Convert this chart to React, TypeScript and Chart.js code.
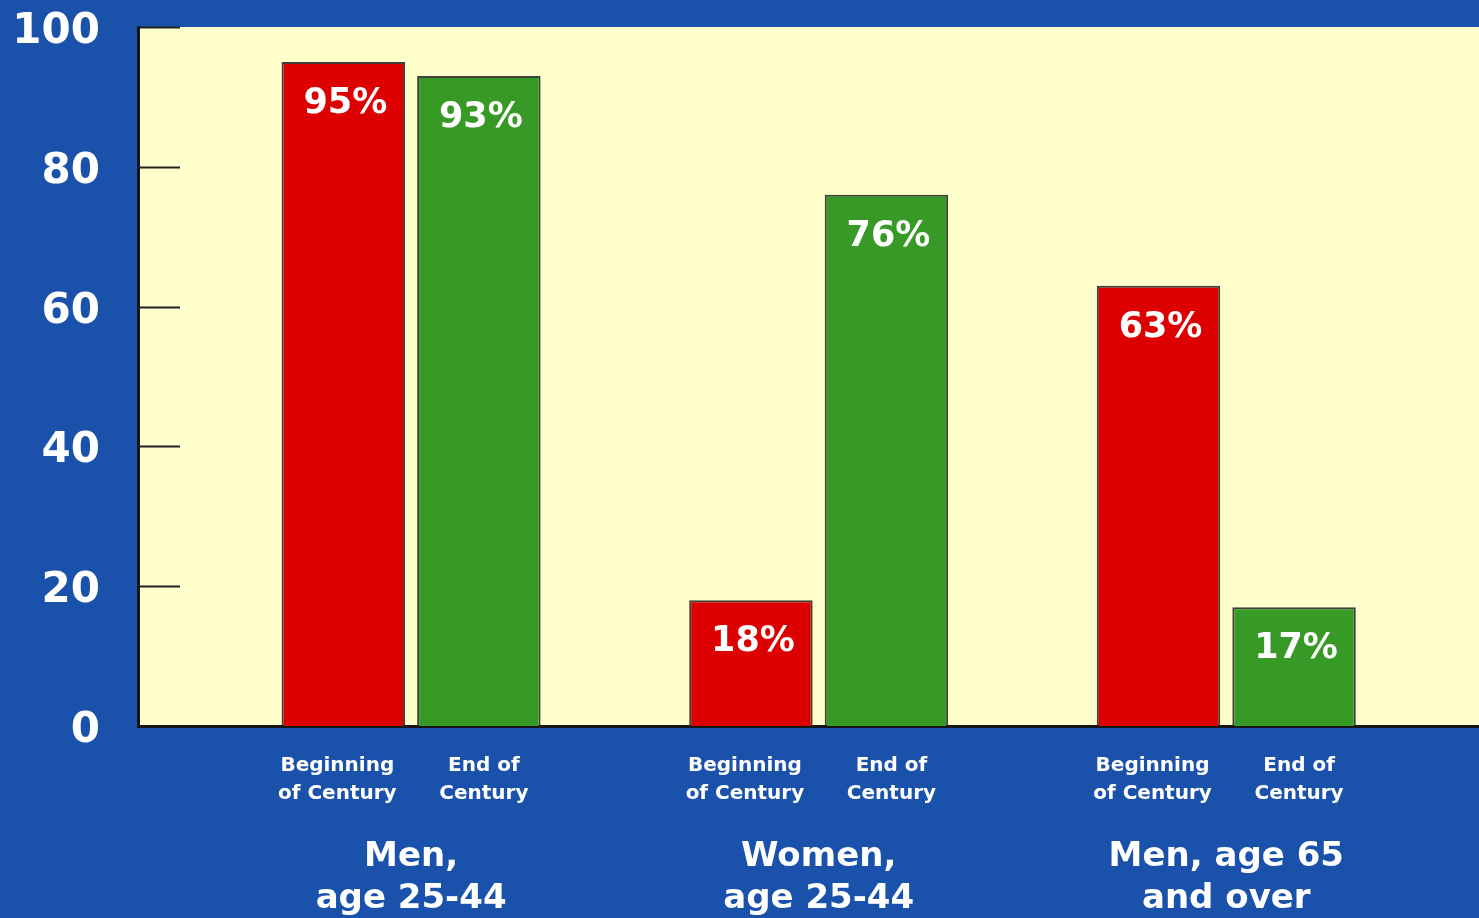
import React, { useEffect, useRef } from "react";
import { Chart, registerables } from "chart.js";

Chart.register(...registerables);

// ---- data ----
const groupLabels: string[][] = [
  ["Men,", "age 25-44"],
  ["Women,", "age 25-44"],
  ["Men, age 65", "and over"],
];
const seriesNames = ["Beginning of Century", "End of Century"];
const seriesLabelLines: string[][] = [
  ["Beginning", "of Century"],
  ["End of", "Century"],
];
const beginningValues = [95, 18, 63];
const endValues = [93, 76, 17];
const yTickValues = [0, 20, 40, 60, 80, 100];

// ---- style ----
const BLUE = "#1a52ab";
const YELLOW = "#ffffcc";
const RED = "#dd0000";
const GREEN = "#379a26";
const FONT = "'DejaVu Sans', sans-serif";
const SERIES_LABEL_SHIFT = [-6, 5];

const decorPlugin = {
  id: "decor",
  beforeDraw(chart: any) {
    const { ctx, chartArea } = chart;
    ctx.save();
    ctx.fillStyle = BLUE;
    ctx.fillRect(0, 0, chart.width, chart.height);
    ctx.fillStyle = YELLOW;
    ctx.fillRect(chartArea.left, chartArea.top, chartArea.right - chartArea.left, chartArea.bottom - chartArea.top);
    ctx.restore();
  },
  afterDatasetsDraw(chart: any) {
    const { ctx, chartArea } = chart;
    const yScale = chart.scales.y;
    ctx.save();
    ctx.strokeStyle = "#222";
    ctx.lineWidth = 2;
    yTickValues.forEach((v) => {
      if (v === 0) return;
      const py = Math.round(yScale.getPixelForValue(v)) + 0.5;
      ctx.beginPath();
      ctx.moveTo(chartArea.left, py);
      ctx.lineTo(chartArea.left + 42, py);
      ctx.stroke();
    });
    ctx.fillStyle = "#ffffff";
    ctx.font = `bold 35px ${FONT}`;
    ctx.textAlign = "center";
    ctx.textBaseline = "middle";
    chart.data.datasets.forEach((ds: any, di: number) => {
      const meta = chart.getDatasetMeta(di);
      meta.data.forEach((bar: any, i: number) => {
        const v = ds.data[i].y;
        ctx.fillText(`${v}%`, bar.x + 2, bar.y + 42);
      });
    });
    ctx.restore();
  },
  afterDraw(chart: any) {
    const { ctx, chartArea } = chart;
    ctx.save();
    ctx.fillStyle = "#ffffff";
    ctx.textAlign = "center";
    ctx.textBaseline = "middle";
    ctx.font = `bold 20px ${FONT}`;
    chart.data.datasets.forEach((_ds: any, di: number) => {
      const meta = chart.getDatasetMeta(di);
      meta.data.forEach((bar: any) => {
        seriesLabelLines[di].forEach((line, li) => {
          ctx.fillText(line, bar.x + SERIES_LABEL_SHIFT[di], chartArea.bottom + 40 + li * 28);
        });
      });
    });
    ctx.font = `bold 34px ${FONT}`;
    const m0 = chart.getDatasetMeta(0);
    const m1 = chart.getDatasetMeta(1);
    groupLabels.forEach((lines, gi) => {
      const cx = (m0.data[gi].x + m1.data[gi].x) / 2;
      lines.forEach((line, li) => {
        ctx.fillText(line, cx, chartArea.bottom + 131 + li * 42);
      });
    });
    ctx.restore();
  },
};

export default function App() {
  const canvasRef = useRef<HTMLCanvasElement | null>(null);

  useEffect(() => {
    document.body.style.margin = "0";
    const canvas = canvasRef.current;
    if (!canvas) return;
    const chart = new Chart(canvas, {
      type: "bar",
      data: {
        datasets: [
          {
            label: seriesNames[0],
            data: beginningValues.map((v, i) => ({ x: i, y: v })),
            backgroundColor: RED,
            borderColor: "rgba(30,30,30,0.85)",
            borderWidth: 2,
            categoryPercentage: 0.665,
            barPercentage: 0.911,
          },
          {
            label: seriesNames[1],
            data: endValues.map((v, i) => ({ x: i, y: v })),
            backgroundColor: GREEN,
            borderColor: "rgba(30,30,30,0.85)",
            borderWidth: 2,
            categoryPercentage: 0.665,
            barPercentage: 0.911,
          },
        ],
      },
      options: {
        responsive: false,
        animation: false,
        layout: { padding: { top: 27, right: 0, left: 0, bottom: 0 } },
        plugins: {
          legend: { display: false },
          tooltip: { enabled: false },
        },
        scales: {
          x: {
            type: "linear",
            offset: false,
            bounds: "data",
            min: -0.67,
            max: 2.62,
            afterBuildTicks: (s: any) => {
              s.ticks = [{ value: s.min }, { value: s.max }];
            },
            afterFit: (s: any) => {
              s.height = 192;
              s.paddingLeft = 0;
              s.paddingRight = 0;
            },
            ticks: { display: false },
            grid: { display: false, drawTicks: false, offset: false },
            border: { display: true, color: "#151515", width: 3 },
          },
          y: {
            min: 0,
            max: 100,
            afterBuildTicks: (s: any) => {
              s.ticks = yTickValues.map((v) => ({ value: v }));
            },
            afterFit: (s: any) => {
              s.width = 138;
              s.paddingTop = 0;
              s.paddingBottom = 0;
            },
            ticks: {
              color: "#ffffff",
              padding: 38,
              labelOffset: 5,
              font: { family: FONT, weight: "bold", size: 42 },
            },
            grid: { display: false, drawTicks: false },
            border: { display: true, color: "#151515", width: 3 },
          },
        },
      } as any,
      plugins: [decorPlugin],
    });
    return () => chart.destroy();
  }, []);

  return (
    <div style={{ position: "absolute", left: 0, top: 0, width: 1479, height: 918, background: BLUE }}>
      <canvas ref={canvasRef} width={1479} height={918} style={{ display: "block" }} />
    </div>
  );
}
